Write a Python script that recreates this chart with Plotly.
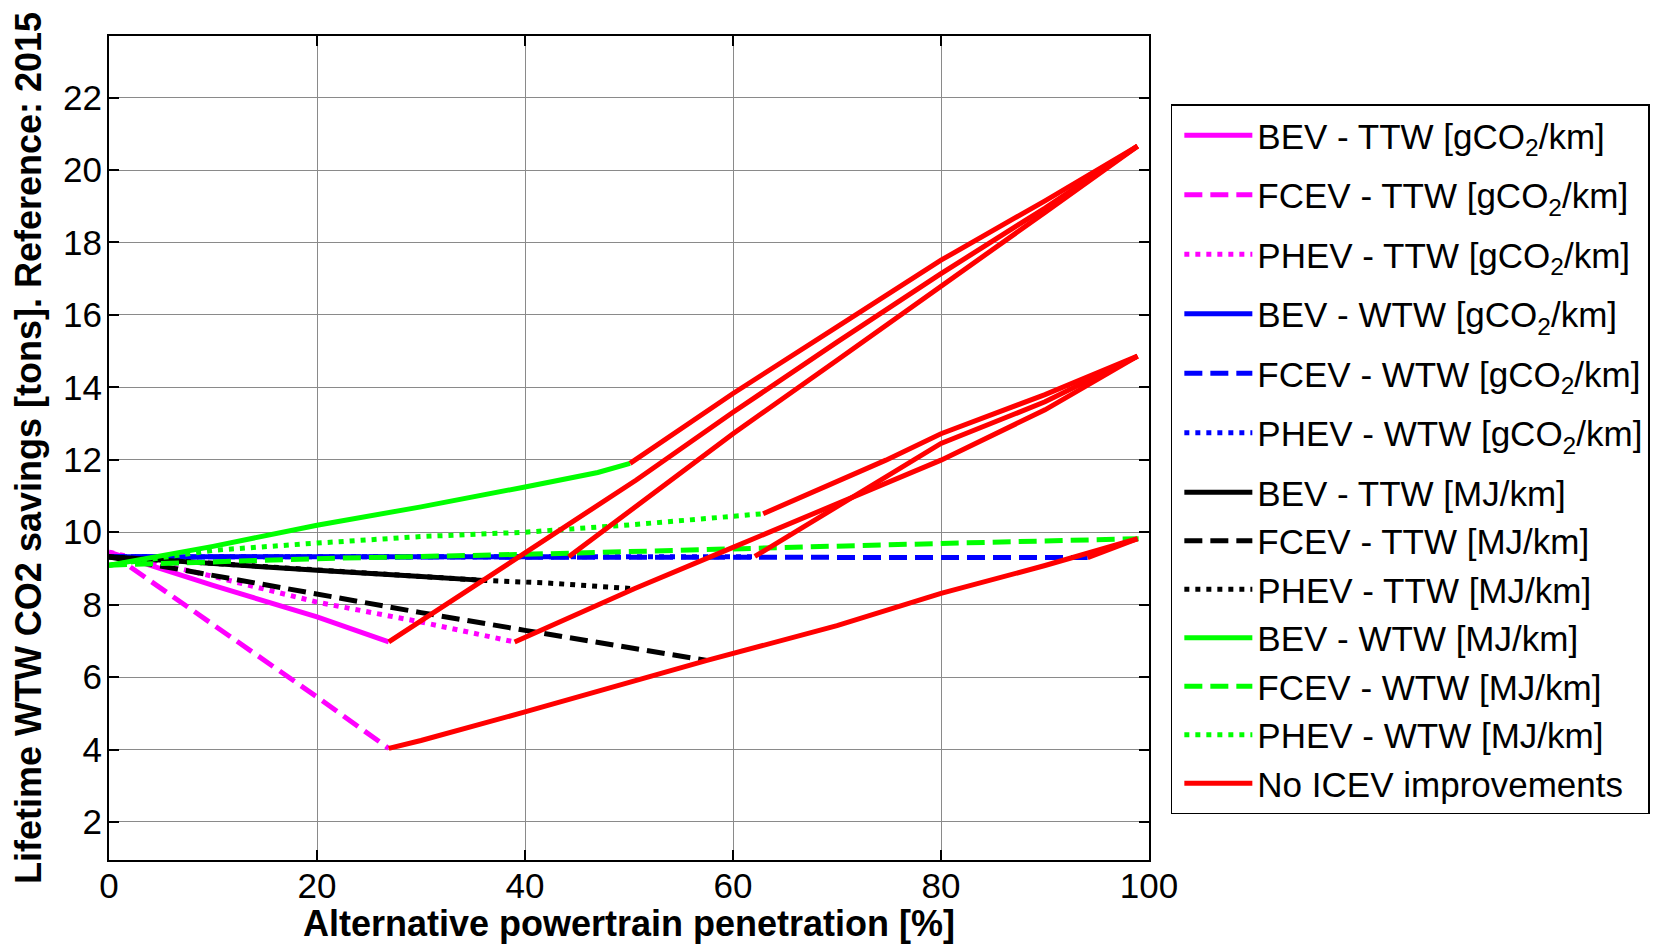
import plotly.graph_objects as go

# ---- data ----
x_bev_ttw_g = [0, 10, 20, 24, 26.9]
y_bev_ttw_g = [9.45, 8.53, 7.66, 7.25, 6.97]
x_fcev_ttw_g = [0, 2, 10, 20, 26.9]
y_fcev_ttw_g = [9.45, 9.05, 7.48, 5.45, 4.03]
x_phev_ttw_g = [0, 10, 20, 30, 39]
y_phev_ttw_g = [9.45, 8.78, 8.07, 7.52, 6.97]

x_bev_wtw_g = [0, 44.2]
y_bev_wtw_g = [9.32, 9.32]
x_fcev_wtw_g = [0, 94.1]
y_fcev_wtw_g = [9.32, 9.30]
x_phev_wtw_g = [0, 62.1]
y_phev_wtw_g = [9.32, 9.32]

x_bev_ttw_mj = [0, 10, 20, 30, 36]
y_bev_ttw_mj = [9.32, 9.12, 8.95, 8.78, 8.67]
x_fcev_ttw_mj = [0, 10, 20, 30, 40, 50, 57.5]
y_fcev_ttw_mj = [9.32, 8.8, 8.31, 7.78, 7.29, 6.8, 6.46]
x_phev_ttw_mj = [0, 20, 36, 42, 50.5]
y_phev_ttw_mj = [9.32, 8.95, 8.67, 8.6, 8.44]

x_bev_wtw_mj = [0, 10, 20, 30, 40, 47, 50.1]
y_bev_wtw_mj = [9.09, 9.61, 10.19, 10.7, 11.25, 11.65, 11.9]
x_fcev_wtw_mj = [0, 20, 40, 60, 80, 99]
y_fcev_wtw_mj = [9.09, 9.27, 9.39, 9.55, 9.69, 9.82]
x_phev_wtw_mj = [0, 10, 20, 30, 40, 50, 62.9]
y_phev_wtw_mj = [9.09, 9.5, 9.70, 9.88, 10.0, 10.2, 10.51]

# "No ICEV improvements" continuations
x_red_a = [50.1, 60, 70, 80, 90, 98.9]
y_red_a = [11.9, 13.83, 15.67, 17.51, 19.15, 20.66]
x_red_b = [26.9, 40, 50.7, 60, 70, 80, 90, 98.9]
y_red_b = [6.97, 9.43, 11.44, 13.31, 15.25, 17.14, 18.95, 20.66]
x_red_c = [44.2, 54.1, 60, 70, 80, 90, 98.9]
y_red_c = [9.32, 11.44, 12.72, 14.75, 16.77, 18.83, 20.66]
x_red_d = [62.9, 74.7, 80, 90, 98.9]
y_red_d = [10.51, 11.99, 12.72, 13.8, 14.86]
x_red_e = [62.1, 77.3, 80, 90, 98.9]
y_red_e = [9.33, 11.99, 12.45, 13.6, 14.86]
x_red_f = [39, 50.5, 60, 70, 80, 90, 98.9]
y_red_f = [6.97, 8.44, 9.58, 10.8, 11.99, 13.38, 14.86]
x_red_g = [94.1, 98.9]
y_red_g = [9.30, 9.82]
x_red_h = [26.9, 30, 40, 50, 57.5, 70, 80, 90, 98.9]
y_red_h = [4.03, 4.25, 5.04, 5.85, 6.46, 7.42, 8.31, 9.08, 9.82]

x_ticks = [0, 20, 40, 60, 80, 100]
y_ticks = [2, 4, 6, 8, 10, 12, 14, 16, 18, 20, 22]

MAGENTA, BLUE, BLACK, GREEN, RED = "#FF00FF", "#0000FF", "#000000", "#00FF00", "#FF0000"
DASH = "18px,8px"
DOT = "5px,6px"
LW = 5

# (name, x, y, colour, dash, legend group)
ev_series = [
    ("BEV - TTW [gCO<sub>2</sub>/km]", x_bev_ttw_g, y_bev_ttw_g, MAGENTA, "solid", "g1"),
    ("FCEV - TTW [gCO<sub>2</sub>/km]", x_fcev_ttw_g, y_fcev_ttw_g, MAGENTA, DASH, "g2"),
    ("PHEV - TTW [gCO<sub>2</sub>/km]", x_phev_ttw_g, y_phev_ttw_g, MAGENTA, DOT, "g3"),
    ("BEV - WTW [gCO<sub>2</sub>/km]", x_bev_wtw_g, y_bev_wtw_g, BLUE, "solid", "g4"),
    ("FCEV - WTW [gCO<sub>2</sub>/km]", x_fcev_wtw_g, y_fcev_wtw_g, BLUE, DASH, "g5"),
    ("PHEV - WTW [gCO<sub>2</sub>/km]", x_phev_wtw_g, y_phev_wtw_g, BLUE, DOT, "g6"),
    ("BEV - TTW [MJ/km]", x_bev_ttw_mj, y_bev_ttw_mj, BLACK, "solid", "mj"),
    ("FCEV - TTW [MJ/km]", x_fcev_ttw_mj, y_fcev_ttw_mj, BLACK, DASH, "mj"),
    ("PHEV - TTW [MJ/km]", x_phev_ttw_mj, y_phev_ttw_mj, BLACK, DOT, "mj"),
    ("BEV - WTW [MJ/km]", x_bev_wtw_mj, y_bev_wtw_mj, GREEN, "solid", "mj"),
    ("FCEV - WTW [MJ/km]", x_fcev_wtw_mj, y_fcev_wtw_mj, GREEN, DASH, "mj"),
    ("PHEV - WTW [MJ/km]", x_phev_wtw_mj, y_phev_wtw_mj, GREEN, DOT, "mj"),
]
red_series = [
    (x_red_h, y_red_h), (x_red_f, y_red_f), (x_red_e, y_red_e), (x_red_d, y_red_d),
    (x_red_c, y_red_c), (x_red_b, y_red_b), (x_red_a, y_red_a), (x_red_g, y_red_g),
]

fig = go.Figure()
for name, xs, ys, col, dash, grp in ev_series:
    fig.add_trace(go.Scatter(x=xs, y=ys, mode="lines", name=name, legendgroup=grp,
                             line=dict(color=col, width=LW, dash=dash)))
for i, (xs, ys) in enumerate(red_series):
    fig.add_trace(go.Scatter(x=xs, y=ys, mode="lines", name="No ICEV improvements",
                             legendgroup="mj", showlegend=(i == 0),
                             line=dict(color=RED, width=LW)))

FONT = "Arial, Liberation Sans, sans-serif"
axis_common = dict(
    showline=True, linecolor="black", linewidth=2, mirror="ticks",
    ticks="inside", ticklen=10, tickwidth=1.5, tickcolor="black",
    showgrid=True, gridcolor="#8a8a8a", gridwidth=1,
    zeroline=False, tickfont=dict(family=FONT, size=35, color="black"),
)
fig.update_xaxes(range=[0, 100], tickvals=x_ticks, ticklabelstandoff=-6, **axis_common,
                 title=dict(text="<b>Alternative powertrain penetration [%]</b>",
                            font=dict(family=FONT, size=36, color="black"), standoff=12))
fig.update_yaxes(range=[0.95, 23.7], tickvals=y_ticks, ticklabelstandoff=-2, **axis_common,
                 title=dict(text="<b>Lifetime WTW CO2 savings [tons]. Reference: 2015</b>",
                            font=dict(family=FONT, size=36, color="black"), standoff=10))

fig.update_layout(
    width=1661, height=944,
    margin=dict(l=109, r=512, t=36, b=84, autoexpand=False),
    plot_bgcolor="white", paper_bgcolor="white",
    font=dict(family=FONT, color="black"),
    legend=dict(x=1.021, xanchor="left", y=0.917, yanchor="top",
                bgcolor="white", bordercolor="black", borderwidth=1.5,
                font=dict(family=FONT, size=35, color="black"),
                itemwidth=68, indentation=7, tracegroupgap=11,
                traceorder="grouped"),
)

fig.write_html("out.html")
